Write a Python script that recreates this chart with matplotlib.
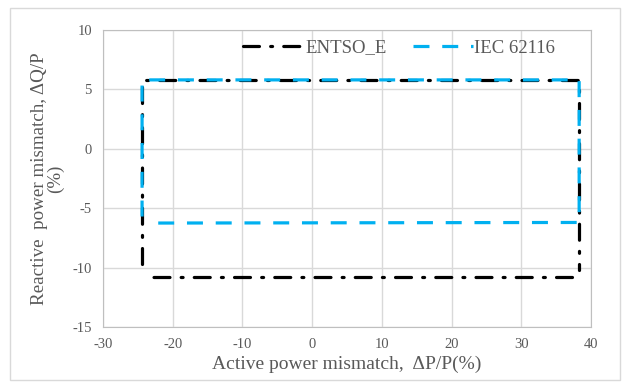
import matplotlib.pyplot as plt
from matplotlib.patches import Rectangle

nan = float('nan')

# ENTSO_E boundary (Excel scatter with lines)
entso_x = [-24.4, -24.4, 38.3, 38.3, nan, 37.3, -24.0]
entso_y = [-9.7, 5.8, 5.8, -10.2, nan, -10.8, -10.8]

# IEC 62116 boundary
iec_x = [-24.4, -24.4, 38.3, 38.3, -23.0]
iec_y = [-5.7, 5.8, 5.8, -6.2, -6.25]

plt.rcParams['font.family'] = ['Liberation Serif', 'DejaVu Serif']
plt.rcParams['axes.unicode_minus'] = False

fig = plt.figure(figsize=(6.29, 3.87), dpi=100)
ax = fig.add_axes([0.1638, 0.155, 0.7758, 0.7675])

# outer chart border like Excel
fig.patches.append(Rectangle((0.016, 0.018), 0.970, 0.962, transform=fig.transFigure,
                             fill=False, edgecolor='#d9d9d9', linewidth=1.0))

ax.plot(entso_x, entso_y, color='black', linewidth=2.3,
        linestyle=(0, (5, 3.5, 0.6, 3.5)), dash_capstyle='round',
        label='ENTSO_E')
ax.plot(iec_x, iec_y, color='#00b0f0', linewidth=2.3,
        linestyle=(0, (5, 4)), label='IEC 62116')

ax.set_xlim(-30, 40)
ax.set_ylim(-15, 10)
ax.set_xticks(range(-30, 41, 10))
ax.set_yticks(range(-15, 11, 5))
ax.grid(True, color='#d9d9d9', linewidth=1.0)
ax.set_axisbelow(True)
for s in ax.spines.values():
    s.set_color('#bfbfbf')
ax.tick_params(length=0, labelsize=10.5, colors='#595959', pad=8)

ax.set_xlabel('Active power mismatch,  \u0394P/P(%)', fontsize=14, color='#595959', labelpad=3)
ax.set_ylabel('Reactive  power mismatch, \u0394Q/P\n(%)', fontsize=13.7, color='#595959',
              linespacing=0.9, labelpad=6)

leg = ax.legend(loc='upper center', ncol=2, frameon=False, fontsize=13.5,
                bbox_to_anchor=(0.607, 1.025), handlelength=3.2, columnspacing=1.4,
                handletextpad=0.1)
for t in leg.get_texts():
    t.set_color('#595959')

fig.savefig('out.png', dpi=100)
